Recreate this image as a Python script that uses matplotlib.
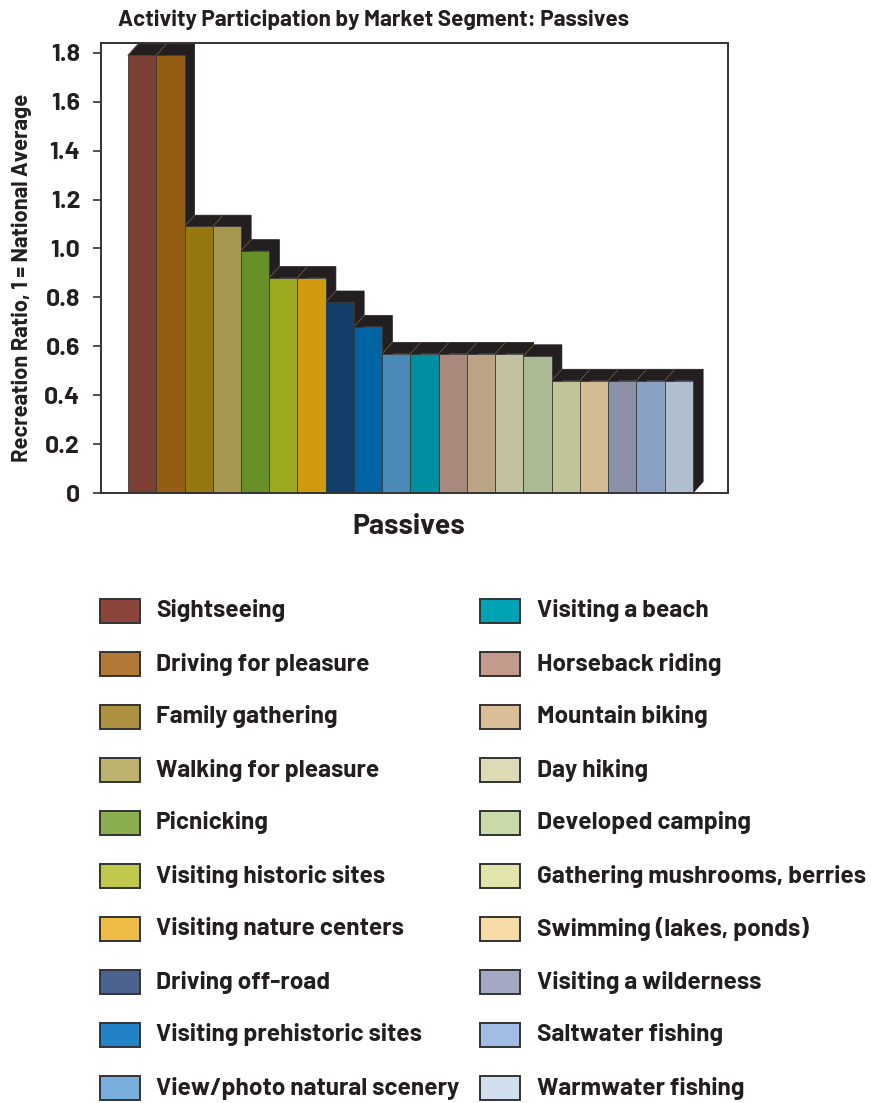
import matplotlib
matplotlib.use("Agg")
import matplotlib.pyplot as plt
from matplotlib.patches import Polygon, Rectangle
from matplotlib import font_manager

fonts = font_manager.fontManager.ttflist
def has_bold(name):
    return any(f.name == name and f.weight in (700, 'bold') for f in fonts)
FAM = next((n for n in ['Barlow', 'Barlow Semi Condensed', 'DejaVu Sans'] if has_bold(n)),
           'DejaVu Sans')
plt.rcParams['font.family'] = [FAM, 'DejaVu Sans']
plt.rcParams['font.weight'] = 'bold'

activities = ["Sightseeing", "Driving for pleasure", "Family gathering", "Walking for pleasure",
              "Picnicking", "Visiting historic sites", "Visiting nature centers", "Driving off-road",
              "Visiting prehistoric sites", "View/photo natural scenery", "Visiting a beach",
              "Horseback riding", "Mountain biking", "Day hiking", "Developed camping",
              "Gathering mushrooms, berries", "Swimming (lakes, ponds)", "Visiting a wilderness",
              "Saltwater fishing", "Warmwater fishing"]
values = [1.79, 1.79, 1.09, 1.09, 0.99, 0.88, 0.88, 0.78, 0.68, 0.57,
          0.57, 0.57, 0.57, 0.57, 0.56, 0.46, 0.46, 0.46, 0.46, 0.46]
bar_colors = ["#7B3F33", "#935E13", "#97780F", "#A6984F", "#689028", "#9CA81E", "#CF9A0E",
              "#123F6A", "#0063A3", "#4A8AB8", "#008FA0", "#A88A7D", "#BCA585", "#C4C1A1",
              "#ABBA93", "#C0C497", "#D3BC91", "#8C91A8", "#8AA1C4", "#B0BECF"]
legend_colors = ["#8B453A", "#B07A36", "#AE9140", "#BCB26E", "#8AAE4E", "#BFC74D", "#EFBD45",
                 "#4A628D", "#2282C8", "#78AEDC", "#00A3B5", "#C49A8C", "#D9BE98", "#DEDAB5",
                 "#C9D9AA", "#E1E5AC", "#F7DBA6", "#A4A8C2", "#A1BDE3", "#D0DEEE"]
yticks = [0, 0.2, 0.4, 0.6, 0.8, 1.0, 1.2, 1.4, 1.6, 1.8]
ytick_labels = ["0", "0.2", "0.4", "0.6", "0.8", "1.0", "1.2", "1.4", "1.6", "1.8"]
title = "Activity Participation by Market Segment: Passives"
ylabel = "Recreation Ratio, 1 = National Average"
xlabel = "Passives"

W, H = 871, 1103
fig = plt.figure(figsize=(W / 100, H / 100), dpi=100)
fig.patch.set_facecolor("white")

def fx(px):
    return px / W

def fy(py):
    return 1 - py / H

ax = fig.add_axes([fx(101), fy(493), fx(728) - fx(101), fy(43) - fy(493)])
ax.set_xlim(-1.456, 20.74)
ax.set_ylim(0, 1.84)

x = list(range(len(values)))
dx, dy = 0.36, 0.046
depth_color = "#231F20"

for i, h in enumerate(values):
    x0, x1 = i - 0.5, i + 0.5
    poly = Polygon([(x0, h), (x0 + dx, h + dy), (x1 + dx, h + dy), (x1 + dx, dy), (x1, 0), (x1, h)],
                   closed=True, facecolor=depth_color, edgecolor=depth_color, lw=0.5, zorder=1,
                   clip_on=False)
    ax.add_patch(poly)
for i, h in enumerate(values):
    x0 = i - 0.5
    ax.plot([x0, x0 + dx], [h, h + dy], color="#6b5a40", lw=0.6, zorder=1.5, clip_on=False)

ax.bar(x, values, width=1.0, color=bar_colors, edgecolor="#3a3a3a", linewidth=0.6, zorder=2)

for s in ax.spines.values():
    s.set_color("#333333")
    s.set_linewidth(1.4)
ax.set_xticks([])
ax.set_yticks(yticks)
ax.set_yticklabels(ytick_labels, fontsize=18, fontweight='bold', color="#231F20")
ax.tick_params(axis='y', length=6, width=1.2, color="#333333", pad=9)

fig.text(fx(118), fy(20), title, fontsize=16.2, fontweight='bold', color="#231F20",
         ha='left', va='center')
fig.text(fx(22), fy(278), ylabel, fontsize=15.8, fontweight='bold', color="#231F20",
         rotation=90, ha='center', va='center')
fig.text(fx(409), fy(527), xlabel, fontsize=20.5, fontweight='bold', color="#231F20",
         ha='center', va='center')

row0, row_step = 611, 53
for i, (lab, col) in enumerate(zip(activities, legend_colors)):
    c, r = divmod(i, 10)
    py = row0 + r * row_step
    px_patch = 100 if c == 0 else 480
    px_text = 156 if c == 0 else 537
    fig.patches.append(Rectangle((fx(px_patch), fy(py + 12)), fx(40), 24 / H,
                                 transform=fig.transFigure, facecolor=col,
                                 edgecolor="#333333", lw=1.4))
    fig.text(fx(px_text), fy(py), lab, fontsize=17.6, fontweight='bold', color="#231F20",
             ha='left', va='center')

fig.savefig("out.png", dpi=100, facecolor="white")
